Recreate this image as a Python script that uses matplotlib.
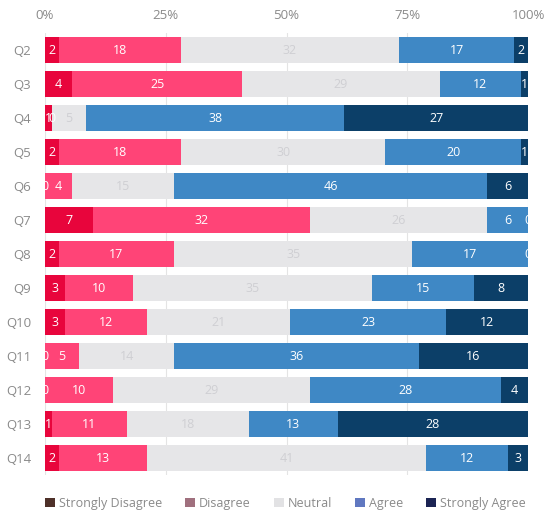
import matplotlib
matplotlib.use('Agg')
import matplotlib.pyplot as plt
from matplotlib.patches import Patch
import numpy as np

plt.rcParams['font.family'] = ['Open Sans', 'DejaVu Sans']

# 数据
questions = ['Q2', 'Q3', 'Q4', 'Q5', 'Q6', 'Q7', 'Q8', 'Q9', 'Q10', 'Q11', 'Q12', 'Q13', 'Q14']
levels = ['Strongly Disagree', 'Disagree', 'Neutral', 'Agree', 'Strongly Agree']
strongly_disagree = [2, 4, 1, 2, 0, 7, 2, 3, 3, 0, 0, 1, 2]
disagree = [18, 25, 0, 18, 4, 32, 17, 10, 12, 5, 10, 11, 13]
neutral = [32, 29, 5, 30, 15, 26, 35, 35, 21, 14, 29, 18, 41]
agree = [17, 12, 38, 20, 46, 6, 17, 15, 23, 36, 28, 13, 12]
strongly_agree = [2, 1, 27, 1, 6, 0, 0, 8, 12, 16, 4, 28, 3]
x_ticks = [0, 25, 50, 75, 100]
x_tick_labels = ['0%', '25%', '50%', '75%', '100%']

# 颜色
bar_colors = ['#E8053C', '#FF4477', '#E6E6E8', '#3F88C5', '#0C3F68']
label_colors = ['white', 'white', '#CFCFD3', 'white', 'white']
legend_colors = ['#4E3029', '#A0707E', '#E2E2E4', '#6078C0', '#1B2453']

series = [strongly_disagree, disagree, neutral, agree, strongly_agree]
counts = np.array(series, dtype=float)
totals = counts.sum(axis=0)
pct = counts / totals * 100

fig = plt.figure(figsize=(5.5, 5.18), dpi=100)
ax = fig.add_axes([45 / 550, 43 / 518, 483 / 550, 442 / 518])

y = np.arange(len(questions))
left = np.zeros(len(questions))
for i in range(len(levels)):
    ax.barh(y, pct[i], left=left, height=0.79, color=bar_colors[i], zorder=2)
    for j in range(len(questions)):
        cx = left[j] + pct[i][j] / 2
        ax.text(cx, y[j], str(series[i][j]), ha='center', va='center',
                fontsize=9, color=label_colors[i], zorder=3)
    left += pct[i]

ax.set_xlim(0, 100)
ax.set_ylim(len(questions) - 0.5, -0.5)
ax.set_yticks(y)
ax.set_yticklabels(questions)
ax.set_xticks(x_ticks)
ax.set_xticklabels(x_tick_labels)
ax.xaxis.tick_top()
ax.tick_params(axis='both', length=0, colors='#8A8A8A', labelsize=9.5)
ax.tick_params(axis='x', pad=8)
ax.tick_params(axis='y', pad=10)
ax.grid(axis='x', color='#E4E4E4', linewidth=0.8, zorder=0)
for s in ax.spines.values():
    s.set_visible(False)

handles = [Patch(facecolor=c, edgecolor='none') for c in legend_colors]
fig.legend(handles, levels, loc='center', bbox_to_anchor=(0.519, 0.028), ncol=5,
           frameon=False, fontsize=9, handlelength=0.8, handleheight=0.8,
           handletextpad=0.3, columnspacing=1.85, labelcolor='#8A8A8A')

plt.savefig('out.png', dpi=100)
